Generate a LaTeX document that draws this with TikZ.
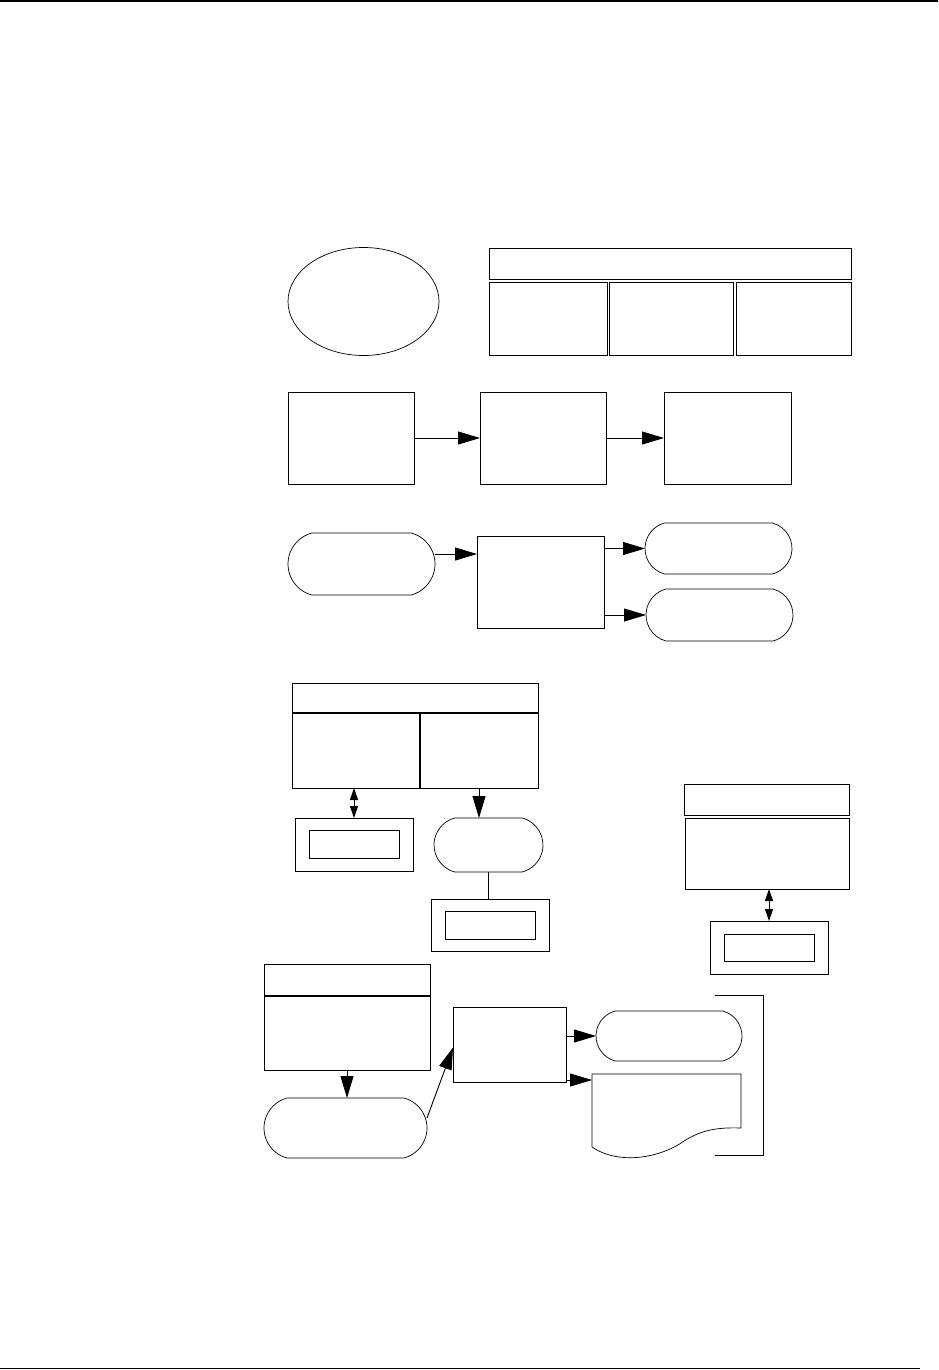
\documentclass[tikz,border=0pt]{standalone}
\usetikzlibrary{arrows.meta,shapes.geometric,shapes.misc,calc}
\tikzset{
  >={Triangle[length=22pt,width=13pt]},
  wh/.style 2 args={minimum width=#1pt,minimum height=#2pt},
  blk/.style={draw,line width=0.9pt,inner sep=0pt,outer sep=0pt},
  term/.style={draw,rounded rectangle,rounded rectangle arc length=150,line width=0.7pt,inner sep=0pt,outer sep=0pt},
  oval/.style={draw,ellipse,line width=0.7pt,inner sep=0pt,outer sep=0pt},
  arr/.style={->,line width=0.9pt},
  darr/.style={{Triangle[length=12pt,width=8pt]}-{Triangle[length=12pt,width=8pt]},line width=0.9pt},
  heavy/.style={line width=2.2pt},
}
\begin{document}
\begin{tikzpicture}[x=1pt,y=-1pt]
\useasboundingbox (0,0) rectangle (938,1370);
% page rules
\draw[line width=2.5pt] (0,1.2) -- (938,1.2);
\draw[line width=1.2pt] (0,1368.5) -- (920,1368.5);

% row 1: oval and table
\node[oval,wh={151}{108}] (ov) at (363.5,301.5) {};
\node[blk,wh={362}{31}] (hd1) at (670,263.5) {};
\foreach \n/\x/\w in {1/548/118,2/671/124,3/793.5/115}
  \node[blk,wh={\w}{73}] (c1\n) at (\x,318.5) {};

% row 2: three steps
\node[blk,wh={126}{92}] (A) at (351,438) {};
\node[blk,wh={126}{92}] (B) at (543,438) {};
\node[blk,wh={127}{92}] (C) at (727.5,438) {};
\draw[arr] (A.east) -- (B.west);
\draw[arr] (B.east) -- (C.west);

% row 3: one in, two out
\node[term,wh={147}{62}] (T1) at (361.5,564) {};
\node[blk,wh={127}{92}] (D) at (540.5,582) {};
\node[term,wh={147}{51}] (T2) at (718.5,548.5) {};
\node[term,wh={147}{52}] (T3) at (719.5,615) {};
\draw[arr] ([yshift=10pt]T1.east) -- ([yshift=10pt]T1.east -| D.west);
\draw[arr] (D.east |- T2.west) -- (T2.west);
\draw[arr] (D.east |- T3.west) -- (T3.west);

% row 4: split table
\node[blk,wh={246}{30}] (hd2) at (415,698) {};
\node[blk,wh={128}{75}] (c21) at (356,750.5) {};
\node[blk,wh={118}{75}] (c22) at (479,750.5) {};
\draw[heavy] (hd2.south west) -- (hd2.south east);
\draw[heavy] (c21.north east) -- (c21.south east);
\node[blk,wh={118}{53}] (E) at (354,844.5) {};
\node[blk,wh={90}{28}] (Ei) at (E) {};
\draw[darr] (c21.south -| E.north) -- (E.north);
\node[term,wh={109}{54}] (S) at (488.5,845) {};
\draw[arr] (c22.south) -- (c22.south |- S.north);
\node[blk,wh={118}{52}] (F) at (490,925) {};
\node[blk,wh={90}{28}] (Fi) at (F) {};
\draw[line width=0.9pt] (S.south) -- (S.south |- F.north);

% right table
\node[blk,wh={165}{31}] (hd3) at (766.5,799.5) {};
\node[blk,wh={164}{71}] (lo3) at (767,853.5) {};
\node[blk,wh={118}{53}] (G) at (769,947.5) {};
\node[blk,wh={90}{27}] (Gi) at (G) {};
\draw[darr] (G.north |- lo3.south) -- (G.north);

% row 5
\node[blk,wh={166}{32}] (hd4) at (347,980) {};
\node[blk,wh={166}{74}] (lo4) at (347,1033) {};
\draw[heavy] (hd4.south west) -- (hd4.south east);
\node[term,wh={163}{60}] (H) at (345.5,1128) {};
\draw[arr] (lo4.south) -- (lo4.south |- H.north);
\node[blk,wh={113}{75}] (I) at (509.5,1044.5) {};
\draw[arr] ([yshift=10pt]H.east) -- ([yshift=-3pt]I.west);
\node[term,wh={146}{50}] (J) at (669,1036) {};
\node[wh={149}{85},inner sep=0pt,outer sep=0pt] (K) at (666.5,1116.5) {};
\draw[line width=0.7pt] ([yshift=12pt]K.south west) -- (K.north west) -- (K.north east) -- ([yshift=31pt]K.south east)
  .. controls ([xshift=-26pt,yshift=32pt]K.south east) and ([xshift=-41pt,yshift=28pt]K.south east) .. ([xshift=-57pt,yshift=18pt]K.south east)
  .. controls ([xshift=-79pt,yshift=2pt]K.south east) and ([xshift=-121pt,yshift=-7pt]K.south east) .. ([yshift=12pt]K.south west);
\draw[arr] (I.east |- J.west) -- (J.west);
\draw[arr] ([yshift=2pt]I.south east) -- ([yshift=2pt]I.south east -| K.west);
\draw[line width=0.9pt] (715,995) -| (763,1155) -- (715,1155);
\end{tikzpicture}
\end{document}
